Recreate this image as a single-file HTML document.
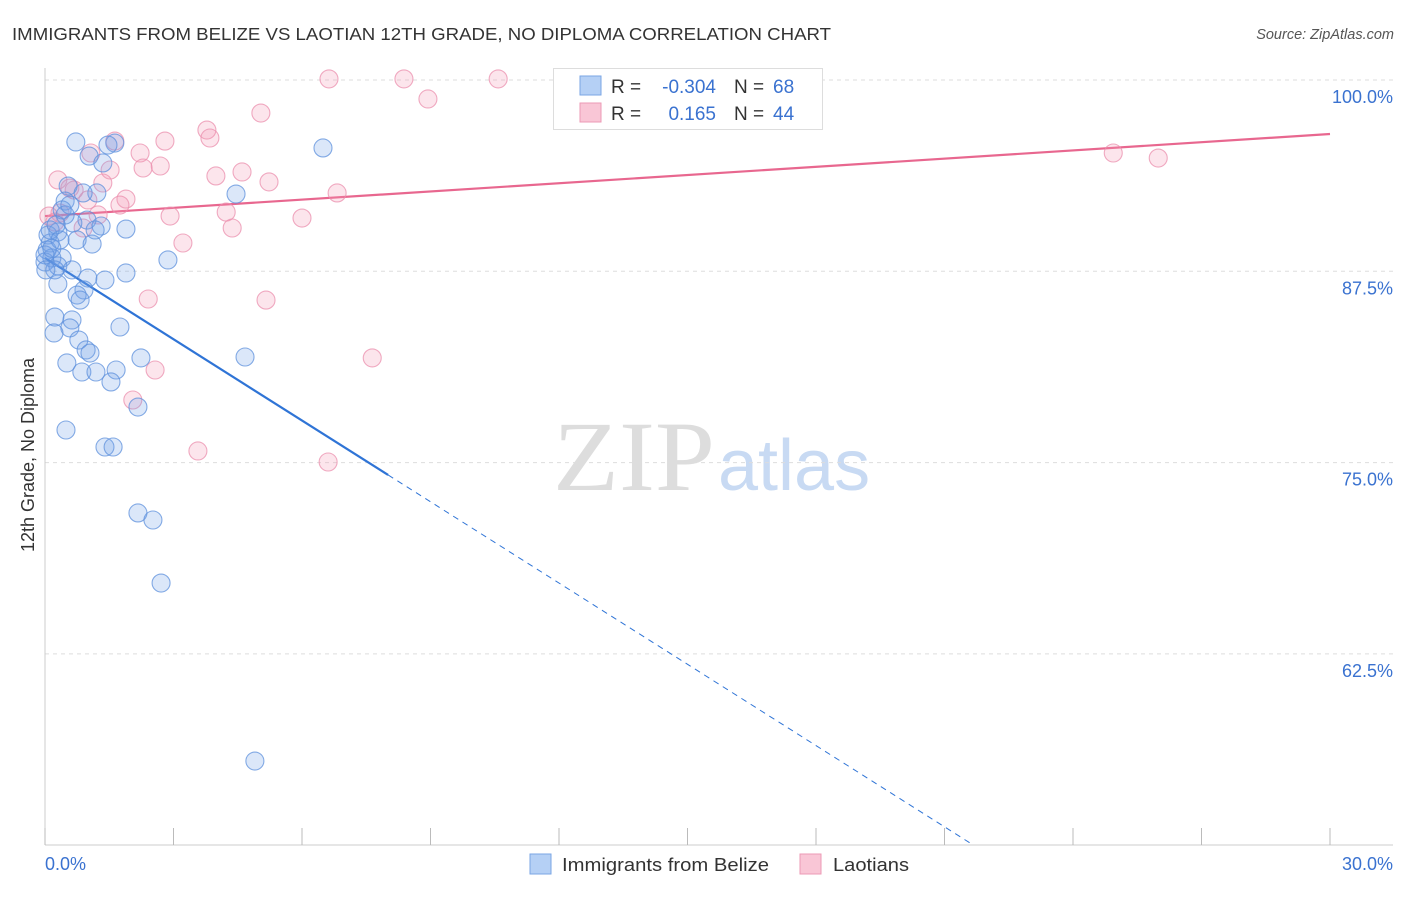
<!DOCTYPE html>
<html><head><meta charset="utf-8"><style>
body{margin:0;background:#fff;font-family:"Liberation Sans",sans-serif;}
svg text{font-family:"Liberation Sans",sans-serif;}
svg text.serif{font-family:"Liberation Serif",serif;}
</style></head><body>
<svg id="chart" width="1406" height="892" xmlns="http://www.w3.org/2000/svg">
<text x="12" y="40" font-size="17.5" fill="#333" textLength="819" lengthAdjust="spacingAndGlyphs">IMMIGRANTS FROM BELIZE VS LAOTIAN 12TH GRADE, NO DIPLOMA CORRELATION CHART</text>
<text x="1394" y="39" font-size="14.5" fill="#555" font-style="italic" text-anchor="end">Source: ZipAtlas.com</text>
<text transform="translate(34,455) rotate(-90)" font-size="18" fill="#333" text-anchor="middle">12th Grade, No Diploma</text>
<g>
<text class="serif" x="553" y="490" font-size="100" fill="#ddd" textLength="162" lengthAdjust="spacingAndGlyphs">ZIP</text>
<text x="718" y="490" font-size="72" fill="#c8daf3">atlas</text>
</g>
<g id="grid"></g><g id="axes"></g><g id="trend"></g><g id="points"></g>
<g>
<rect x="553.5" y="68.5" width="269" height="61" fill="#fff" stroke="#ddd"/>
<rect x="580" y="76" width="21" height="19" fill="#b5d0f5" stroke="#7aa6e4"/>
<rect x="580" y="103" width="21" height="19" fill="#f9c6d6" stroke="#ec9ab5"/>
<text x="611" y="93" font-size="19" fill="#333">R =</text>
<text x="716" y="93" font-size="19" fill="#3a72d0" text-anchor="end">-0.304</text>
<text x="734" y="93" font-size="19" fill="#333">N =</text>
<text x="773" y="93" font-size="19" fill="#3a72d0">68</text>
<text x="611" y="120" font-size="19" fill="#333">R =</text>
<text x="716" y="120" font-size="19" fill="#3a72d0" text-anchor="end">0.165</text>
<text x="734" y="120" font-size="19" fill="#333">N =</text>
<text x="773" y="120" font-size="19" fill="#3a72d0">44</text>
</g>
<g>
<rect x="530" y="854" width="21" height="20" fill="#b5d0f5" stroke="#7aa6e4"/>
<text x="562" y="871" font-size="18.5" fill="#333" textLength="207" lengthAdjust="spacingAndGlyphs">Immigrants from Belize</text>
<rect x="800" y="854" width="21" height="20" fill="#f9c6d6" stroke="#ec9ab5"/>
<text x="833" y="871" font-size="18.5" fill="#333" textLength="76" lengthAdjust="spacingAndGlyphs">Laotians</text>
</g>
</svg>
<script>
const blueX=[0.72,1.63,1.47,6.49,1.03,1.35,0.54,1.21,0.89,4.46,0.47,0.40,0.98,0.65,1.31,1.89,0.30,0.07,0.75,0.12,1.10,0.05,0.16,0.40,2.87,0.00,0.30,0.63,1.89,1.00,1.40,0.30,0.91,0.75,0.82,0.23,0.63,1.75,0.58,0.21,0.79,0.96,1.05,2.24,4.67,0.51,0.86,1.19,1.66,1.54,2.17,0.49,1.40,1.59,2.17,2.52,2.71,4.90,0,0.12,0.35,0.23,0.47,0.02,0.26,0.58,1.17,0.16];
const blueY=[95.95,95.88,95.75,95.56,95.03,94.58,93.07,92.62,92.62,92.55,92.09,91.51,90.85,90.66,90.46,90.26,90.07,89.87,89.55,89.35,89.28,88.89,88.37,88.37,88.24,88.11,87.85,87.59,87.39,87.06,86.93,86.67,86.28,85.95,85.62,84.51,84.32,83.86,83.80,83.47,83.01,82.36,82.16,81.84,81.90,81.51,80.92,80.92,81.05,80.27,78.63,77.13,76.02,76.02,71.71,71.25,67.13,55.50,88.57,90.2,89.55,87.59,91.18,87.59,90.53,91.83,90.2,89.0];
const pinkX=[6.63,8.38,10.58,8.94,5.04,3.78,3.85,1.63,2.80,1.07,2.22,2.69,1.52,2.29,4.60,3.99,0.30,5.23,1.35,0.58,6.82,1.89,1.00,1.75,4.23,0.35,0.09,2.92,6.00,1.24,0.23,4.37,0.89,3.22,2.41,5.16,7.64,2.57,2.05,3.57,6.61,24.94,25.99,0.68];
const pinkY=[100.07,100.07,100.07,98.76,97.84,96.73,96.21,96.01,96.01,95.23,95.23,94.38,94.12,94.25,93.99,93.73,93.47,93.34,93.27,92.94,92.62,92.22,92.16,91.83,91.37,91.31,91.11,91.11,90.98,91.18,90.72,90.33,90.33,89.35,85.69,85.62,81.84,81.05,79.09,75.76,75.04,95.23,94.90,92.81];
const yTicks=[100,87.5,75,62.5];
const yTickLabels=["100.0%","87.5%","75.0%","62.5%"];
const xTicks=[0,3,6,9,12,15,18,21,24,27,30];
const xEndLabels=["0.0%","30.0%"];
const blueTrend=[88.37,-1.77]; // intercept, slope
const pinkTrend=[91.11,0.1787];

const NS="http://www.w3.org/2000/svg";
const X=v=>45+v/30*1285;
const Y=v=>80+(100-v)/12.5*191.3;
function mk(tag,attrs,parent){const e=document.createElementNS(NS,tag);for(const k in attrs)e.setAttribute(k,attrs[k]);document.getElementById(parent).appendChild(e);return e;}
yTicks.forEach((t,i)=>{
  const l=mk('line',{x1:45,x2:1393,y1:Y(t),y2:Y(t),stroke:'#ddd','stroke-dasharray':'4,4'},'grid');
  
  
  const tx=mk('text',{x:1393,y:Y(t)+23,'font-size':18,fill:'#3a72d0','text-anchor':'end'},'grid');
  tx.textContent=yTickLabels[i];
  
  
});
const ax=mk('line',{x1:45,x2:45,y1:68,y2:845,stroke:'#ccc'},'axes');


const bx=mk('line',{x1:45,x2:1393,y1:845,y2:845,stroke:'#ccc'},'axes');


xTicks.forEach(t=>{
  const k=mk('line',{x1:X(t),x2:X(t),y1:828,y2:845,stroke:'#bbb'},'axes');
  
  
});
[[0,'start',45],[30,'end',1393]].forEach((d,i)=>{
  const tx=mk('text',{x:d[2],y:870,'font-size':18,fill:'#3a72d0','text-anchor':d[1]},'axes');
  tx.textContent=xEndLabels[i];
  
  
});
function drawPts(xs,ys,fill,stroke,name){
  xs.forEach((x,i)=>{
    const c=mk('circle',{cx:X(x),cy:Y(ys[i]),r:9,fill:fill,stroke:stroke,'stroke-width':1.1,'stroke-opacity':0.75},'points');
    
    
  });
}
drawPts(pinkX,pinkY,'rgba(244,150,180,0.25)','#eb8fae','laotians-point');
drawPts(blueX,blueY,'rgba(110,160,230,0.25)','#5d90dc','belize-point');
const bEndSolid=8.01, bEnd=(50-blueTrend[0])/blueTrend[1];
const t1=mk('line',{x1:X(0),y1:Y(blueTrend[0]),x2:X(bEndSolid),y2:Y(blueTrend[0]+blueTrend[1]*bEndSolid),stroke:'#2f74d6','stroke-width':2.2},'trend');


const t2=mk('line',{x1:X(bEndSolid),y1:Y(blueTrend[0]+blueTrend[1]*bEndSolid),x2:X(bEnd),y2:Y(50),stroke:'#2f74d6','stroke-width':1,'stroke-dasharray':'6,5'},'trend');


const t3=mk('line',{x1:X(0),y1:Y(pinkTrend[0]),x2:X(30),y2:Y(pinkTrend[0]+pinkTrend[1]*30),stroke:'#e8678f','stroke-width':2.2},'trend');


</script>
</body></html>
